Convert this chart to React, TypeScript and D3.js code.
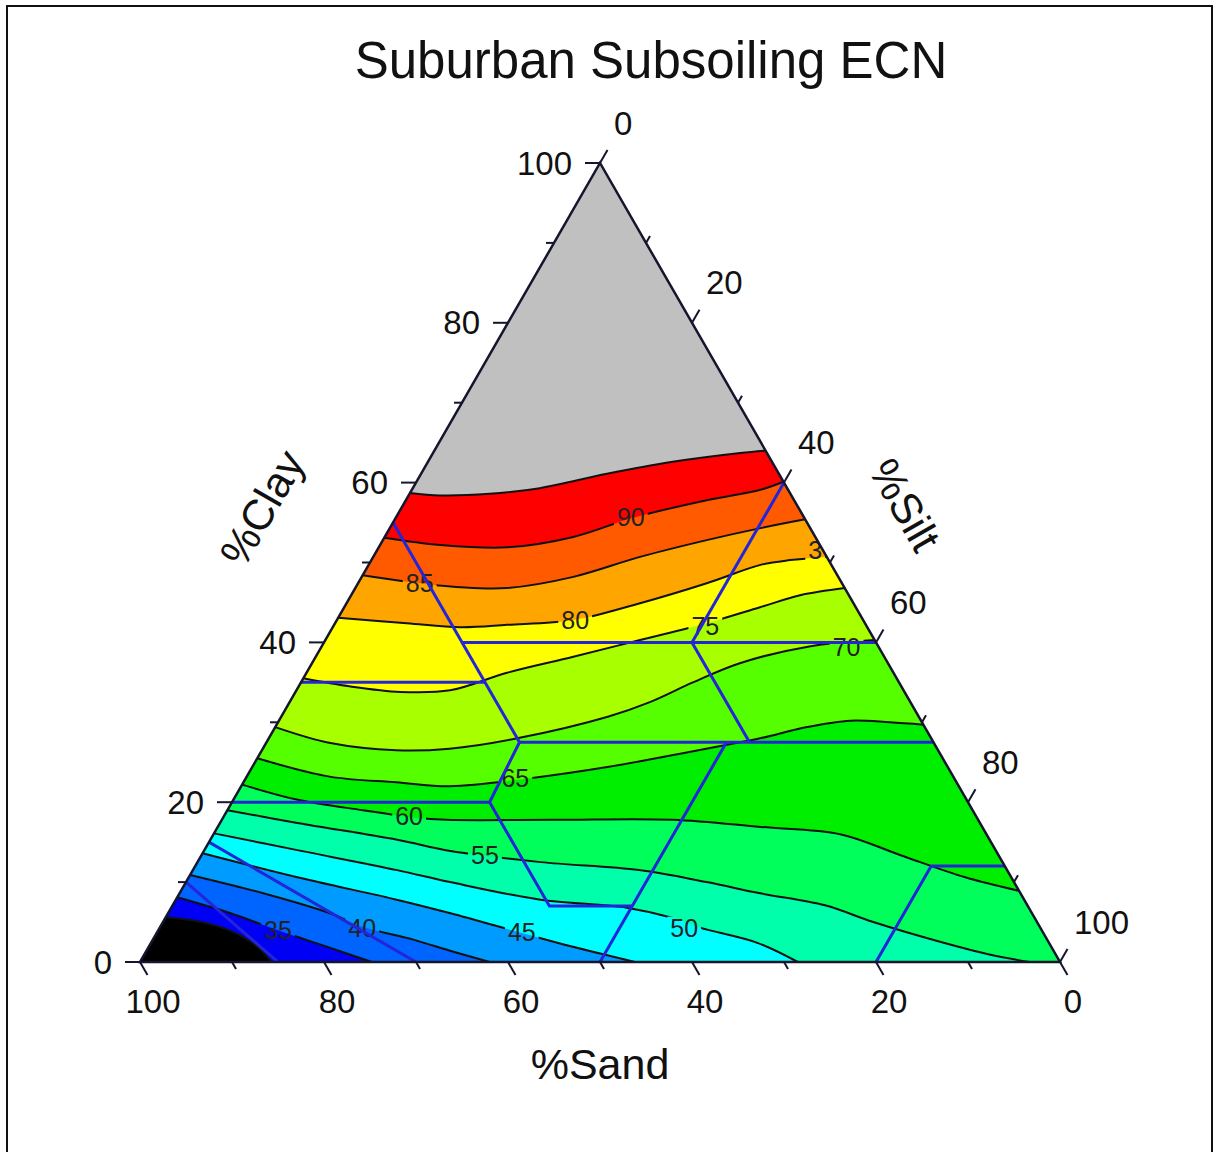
import React from "react";
import * as d3 from "d3";

// ECN contour levels and band colours (low -> high, last one is above the top level)
const levels = [30, 35, 40, 45, 50, 55, 60, 65, 70, 75, 80, 85, 90, 95];
const bandColors = [
  "#000000", "#0000f5", "#0064ff", "#009bff", "#00ffff", "#00ffaa", "#00ff5a",
  "#00ee00", "#55ff00", "#a8ff00", "#ffff00", "#ffa500", "#ff5a00", "#ff0000", "#c0c0c0",
];

// contour lines, points as [sand %, clay %]
const c30 = [[94.4, 5.6], [91.2, 5.1], [88.2, 3.9], [86.4, 2.1], [85.7, 0]];
const c35 = [[91.9, 8.1], [87.1, 6.1], [83.1, 4.0], [78.5, 1.8], [74.8, 0]];
const c40 = [[89.1, 10.9], [82.3, 8.6], [76.3, 6.1], [73.6, 4.4], [68.9, 2.8], [65.6, 1.4], [62.0, 0]];
const c45 = [[86.4, 13.6], [77.6, 10.6], [68.2, 7.8], [63.2, 6.1], [56.6, 3.6], [52.0, 1.9], [46.2, 0]];
const c50 = [[83.9, 16.1], [75.9, 14.0], [66.3, 11.5], [61.3, 10.0], [52.6, 7.8], [43.7, 6.8], [39.3, 5.5], [37.0, 4.3], [31.7, 2.4], [28.5, 0]];
const c55 = [[81.0, 19.0], [74.2, 17.4], [64.4, 15.3], [59.3, 13.9], [50.2, 12.5], [40.0, 11.5], [33.4, 10.0], [28.3, 8.6], [22.0, 7.1], [17.8, 5.0], [11.7, 2.5], [7.1, 0.9], [3.3, 0]];
const c60 = [[77.8, 22.2], [72.7, 20.3], [66.3, 19.0], [61.2, 18.1], [57.8, 17.8], [46.1, 17.8], [33.2, 17.8], [24.1, 16.9], [15.9, 16.0], [10.7, 13.4], [5.0, 10.6], [0, 8.9]];
const c65 = [[74.5, 25.5], [67.8, 23.2], [60.9, 22.5], [55.3, 22.0], [46.1, 23.0], [37.0, 24.4], [29.1, 25.9], [22.6, 27.2], [18.6, 28.0], [12.8, 29.4], [7.7, 30.2], [3.5, 30.0], [0, 29.7]];
const c70 = [[70.6, 29.4], [65.6, 27.4], [58.9, 26.5], [53.0, 26.7], [45.0, 28.0], [33.8, 30.7], [28.4, 32.5], [22.4, 35.0], [16.1, 37.4], [7.5, 39.5], [0, 40.3]];
const c75 = [[64.5, 35.5], [60.0, 34.5], [54.8, 33.8], [49.3, 34.0], [42.0, 36.2], [33.8, 38.2], [25.5, 40.3], [17.2, 42.4], [10.4, 44.4], [5.3, 45.9], [0, 46.8]];
const c80 = [[56.9, 43.1], [49.8, 42.4], [44.2, 41.9], [39.0, 42.2], [31.5, 42.8], [23.2, 44.9], [14.7, 47.4], [7.7, 49.7], [4.2, 50.3], [0, 50.7]];
const c85 = [[51.6, 48.4], [47.2, 47.6], [41.7, 46.9], [36.7, 46.8], [28.8, 48.2], [20.3, 50.7], [12.0, 52.8], [5.4, 54.3], [0, 55.4]];
const c90 = [[46.9, 53.1], [41.3, 52.2], [34.1, 51.9], [26.3, 53.2], [18.6, 55.6], [9.5, 57.8], [3.0, 59.1], [0, 60.1]];
const c95 = [[41.3, 58.7], [38.2, 58.4], [32.7, 58.6], [26.9, 59.3], [18.7, 61.1], [10.8, 62.6], [2.9, 63.7], [0, 64.0]];

// contour labels
const labelText = ["35", "40", "45", "50", "55", "60", "65", "70", "75", "80", "85", "90", "3"];
const labelAt = [[83.0, 4.0], [73.7, 4.3], [56.6, 3.8], [38.7, 4.3], [55.8, 13.4], [61.6, 18.3], [47.7, 23.0], [3.5, 39.4], [17.5, 42.1], [31.3, 42.8], [45.9, 47.4], [18.8, 55.7], [0.8, 51.6]];

// USDA texture class boundaries, [sand, clay]
const classLines = [
  [[45, 55], [45, 27.5]],
  [[45, 40], [0, 40]],
  [[20, 40], [0, 60]],
  [[65, 35], [45, 35]],
  [[45, 27.5], [0, 27.5]],
  [[20, 40], [20, 27.5]],
  [[80, 20], [52, 20], [45, 27.5]],
  [[52, 20], [52, 7], [43, 7]],
  [[50, 0], [22.5, 27.5]],
  [[20, 0], [8, 12], [0, 12]],
  [[85, 15], [70, 0]],
  [[90, 10], [85, 0]],
];

const majorTicks = [0, 20, 40, 60, 80, 100];
const minorTicks = [10, 30, 50, 70, 90];

const FONT = "'Liberation Sans', Arial, sans-serif";

export default function App() {
  const W = 1219, H = 1152;
  const xs = d3.scaleLinear().domain([0, 100]).range([140, 1060]);
  const ys = d3.scaleLinear().domain([0, 100]).range([962, 163]);
  const proj = (p: number[]): [number, number] => [xs(100 - p[0] - p[1] / 2), ys(p[1])];

  const top = proj([0, 100]), bl = proj([100, 0]), br = proj([0, 0]);
  const smooth = d3.line().curve(d3.curveCatmullRom.alpha(0.5));
  const straight = d3.line();
  const triPath = straight([bl, br, top]) + "Z";

  const contours = [c30, c35, c40, c45, c50, c55, c60, c65, c70, c75, c80, c85, c90, c95];

  // region above a contour: the curve, then round the triangle corners back to its start
  const regionPath = (c: number[][]) => {
    const end = c[c.length - 1];
    const tail = end[1] === 0 ? [br, top] : [top];
    return smooth(c.map(proj) as [number, number][]) + tail.map((p) => `L${p[0]},${p[1]}`).join("") + "Z";
  };

  const unit = (a: number[], b: number[]) => {
    const dx = b[0] - a[0], dy = b[1] - a[1], l = Math.hypot(dx, dy);
    return [dx / l, dy / l];
  };
  const sandDir = unit(top, br);
  const siltDir = unit(bl, top);

  const labelSize = 25;
  const tickSize = 33;
  const axisColor = "#15152e";

  const ticks = [...majorTicks.map((v) => ({ v, len: 15 })), ...minorTicks.map((v) => ({ v, len: 8 }))];

  return (
    <div style={{ position: "absolute", left: 0, top: 0 }}>
      <svg width={W} height={H} style={{ display: "block", fontFamily: FONT }}>
        <rect width={W} height={H} fill="#fff" />
        <rect x={7} y={6} width={1205} height={1170} fill="none" stroke="#111" strokeWidth={2} />
        <defs>
          <clipPath id="tri">
            <path d={triPath} />
          </clipPath>
          <mask id="gaps" maskUnits="userSpaceOnUse" x={0} y={0} width={W} height={H}>
            <rect width={W} height={H} fill="white" />
            {labelText.map((t, i) => {
              const [cx, cy] = proj(labelAt[i]);
              const w = t.length * 0.556 * labelSize + 6;
              return <rect key={i} x={cx - w / 2} y={cy - 11} width={w} height={22} fill="black" />;
            })}
          </mask>
        </defs>

        <text x={651} y={78} textAnchor="middle" fontSize={51} fill="#111">
          Suburban Subsoiling ECN
        </text>

        <g clipPath="url(#tri)">
          <path d={triPath} fill={bandColors[0]} />
          {contours.map((c, i) => (
            <path key={levels[i]} d={regionPath(c)} fill={bandColors[i + 1]} />
          ))}
          <g mask="url(#gaps)">
            {contours.map((c, i) => (
              <path key={levels[i]} d={smooth(c.map(proj) as [number, number][]) || ""} fill="none" stroke="#111" strokeWidth={2} />
            ))}
          </g>
          {labelText.map((t, i) => {
            const [cx, cy] = proj(labelAt[i]);
            return (
              <text key={i} x={cx} y={cy} textAnchor="middle" dominantBaseline="central" fontSize={labelSize} fill="#222">
                {t}
              </text>
            );
          })}
          {classLines.map((l, i) => (
            <path key={i} d={straight(l.map(proj) as [number, number][]) || ""} fill="none" stroke="#2424d8" strokeWidth={3} />
          ))}
        </g>

        <path d={triPath} fill="none" stroke={axisColor} strokeWidth={2.5} strokeLinejoin="miter" />

        {/* clay axis, left */}
        {ticks.map(({ v, len }) => {
          const p = proj([100 - v, v]);
          return <line key={"c" + v} x1={p[0]} y1={p[1]} x2={p[0] - len} y2={p[1]} stroke={axisColor} strokeWidth={2} />;
        })}
        {majorTicks.map((v) => {
          const p = proj([100 - v, v]);
          return (
            <text key={"cl" + v} x={p[0] - 28} y={p[1]} textAnchor="end" dominantBaseline="central" fontSize={tickSize} fill="#111">
              {v}
            </text>
          );
        })}

        {/* sand axis, bottom */}
        {ticks.map(({ v, len }) => {
          const p = proj([v, 0]);
          return <line key={"s" + v} x1={p[0]} y1={p[1]} x2={p[0] + sandDir[0] * len} y2={p[1] + sandDir[1] * len} stroke={axisColor} strokeWidth={2} />;
        })}
        {majorTicks.map((v) => {
          const p = proj([v, 0]);
          return (
            <text key={"sl" + v} x={p[0] + 13} y={p[1] + 39} textAnchor="middle" dominantBaseline="central" fontSize={tickSize} fill="#111">
              {v}
            </text>
          );
        })}

        {/* silt axis, right */}
        {ticks.map(({ v, len }) => {
          const p = proj([0, 100 - v]);
          return <line key={"t" + v} x1={p[0]} y1={p[1]} x2={p[0] + siltDir[0] * len} y2={p[1] + siltDir[1] * len} stroke={axisColor} strokeWidth={2} />;
        })}
        {majorTicks.map((v) => {
          const p = proj([0, 100 - v]);
          return (
            <text key={"tl" + v} x={p[0] + 14} y={p[1] - 40} textAnchor="start" dominantBaseline="central" fontSize={tickSize} fill="#111">
              {v}
            </text>
          );
        })}

        <text x={600} y={1064} textAnchor="middle" dominantBaseline="central" fontSize={43} fill="#111">
          %Sand
        </text>
        <text transform="translate(262,508) rotate(-60)" textAnchor="middle" dominantBaseline="central" fontSize={43} fill="#111">
          %Clay
        </text>
        <text transform="translate(905,505) rotate(60)" textAnchor="middle" dominantBaseline="central" fontSize={43} fill="#111">
          %Silt
        </text>
      </svg>
    </div>
  );
}
